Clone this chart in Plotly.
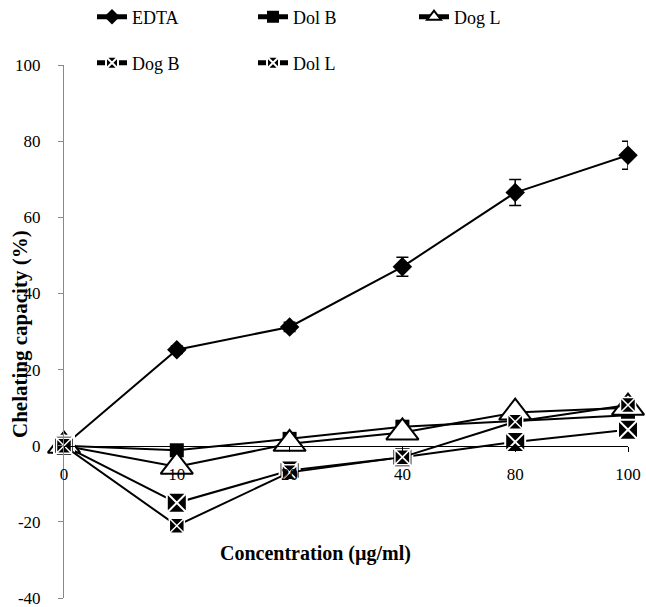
import plotly.graph_objects as go

categories = ["0", "10", "20", "40", "80", "100"]
edta = [0, 25.2, 31.2, 47.0, 66.5, 76.3]
edta_err = [0, 1.0, 1.2, 2.5, 3.4, 3.7]
dol_b = [0, -1.2, 1.8, 5.0, 6.5, 8.0]
dog_l = [0, -5.5, 0.5, 3.5, 8.7, 10.0]
dog_b = [0, -15.0, -6.5, -3.0, 1.0, 4.2]
dol_l = [0, -21.0, -7.0, -3.0, 6.3, 10.7]
y_ticks = [-40, -20, 0, 20, 40, 60, 80, 100]
y_ticklabels = ["-40", "-20", "0", "20", "40", "60", "80", "100"]

FONT = "Liberation Serif, Times New Roman, serif"

fig = go.Figure()

fig.add_trace(go.Scatter(
    x=categories, y=edta, name="EDTA", mode="lines+markers",
    line=dict(color="black", width=2),
    marker=dict(symbol="diamond", size=15, color="black"),
    error_y=dict(type="data", array=edta_err, color="black", thickness=1.5, width=6),
    cliponaxis=False, legend="legend",
))
fig.add_trace(go.Scatter(
    x=categories, y=dol_b, name="Dol B", mode="lines+markers",
    line=dict(color="black", width=2),
    marker=dict(symbol="square", size=14, color="black"),
    cliponaxis=False, legend="legend",
))
fig.add_trace(go.Scatter(
    x=categories, y=dog_l, name="Dog L", mode="lines+markers",
    line=dict(color="black", width=2),
    marker=dict(symbol="triangle-up", size=28, color="white",
                line=dict(color="black", width=2)),
    cliponaxis=False, legend="legend",
))
fig.add_trace(go.Scatter(
    x=categories, y=dog_b, name="Dog B", mode="lines+markers",
    line=dict(color="black", width=2),
    marker=dict(symbol="square-x", size=20, color="black",
                line=dict(color="white", width=2)),
    cliponaxis=False, legend="legend2",
))
fig.add_trace(go.Scatter(
    x=categories, y=dol_l, name="Dol L", mode="lines+markers",
    line=dict(color="black", width=2),
    marker=dict(symbol="square-x", size=15, color="black",
                line=dict(color="white", width=1.5)),
    cliponaxis=False, legend="legend2",
))

leg_common = dict(
    orientation="h", xref="container", yref="container",
    xanchor="left", yanchor="middle",
    font=dict(family=FONT, size=18, color="black"),
    entrywidth=116, entrywidthmode="pixels",
    bgcolor="rgba(0,0,0,0)", itemsizing="constant",
    tracegroupgap=0,
)

fig.update_layout(
    width=646, height=607,
    margin=dict(l=64, r=18, t=65, b=9, autoexpand=False),
    paper_bgcolor="white", plot_bgcolor="white",
    font=dict(family=FONT, size=17, color="black"),
    legend=dict(x=92 / 646, y=1 - 17 / 607, **leg_common),
    legend2=dict(x=92 / 646, y=1 - 63 / 607, **leg_common),
    xaxis=dict(
        type="category", range=[0, 5], automargin=False,
        anchor="free", position=40 / 140,
        showline=True, linecolor="black", linewidth=1,
        ticks="outside", ticklen=5, tickcolor="black", tickwidth=1,
        showgrid=False, zeroline=False,
        ticklabelstandoff=8, ticklabeloverflow="allow",
        tickfont=dict(family=FONT, size=17, color="black"),
    ),
    yaxis=dict(
        range=[-40, 100], tickmode="array", tickvals=y_ticks, ticktext=y_ticklabels,
        automargin=False,
        showline=True, linecolor="#898989", linewidth=1,
        ticks="outside", ticklen=5, tickcolor="#898989",
        showgrid=False, zeroline=False,
        ticklabelstandoff=14, ticklabeloverflow="allow",
        tickfont=dict(family=FONT, size=17, color="black"),
    ),
    annotations=[
        dict(text="<b>Concentration (µg/ml)</b>", xref="paper", yref="paper",
             x=(315 - 64) / 564, y=(598 - 553) / 533, showarrow=False,
             xanchor="center", yanchor="middle",
             font=dict(family=FONT, size=20, color="black")),
        dict(text="<b>Chelating capacity (%)</b>", xref="paper", yref="paper",
             x=(20 - 64) / 564, y=(598 - 334) / 533, showarrow=False,
             textangle=-90, xanchor="center", yanchor="middle",
             font=dict(family=FONT, size=21, color="black")),
    ],
)

fig.write_html("out.html")
